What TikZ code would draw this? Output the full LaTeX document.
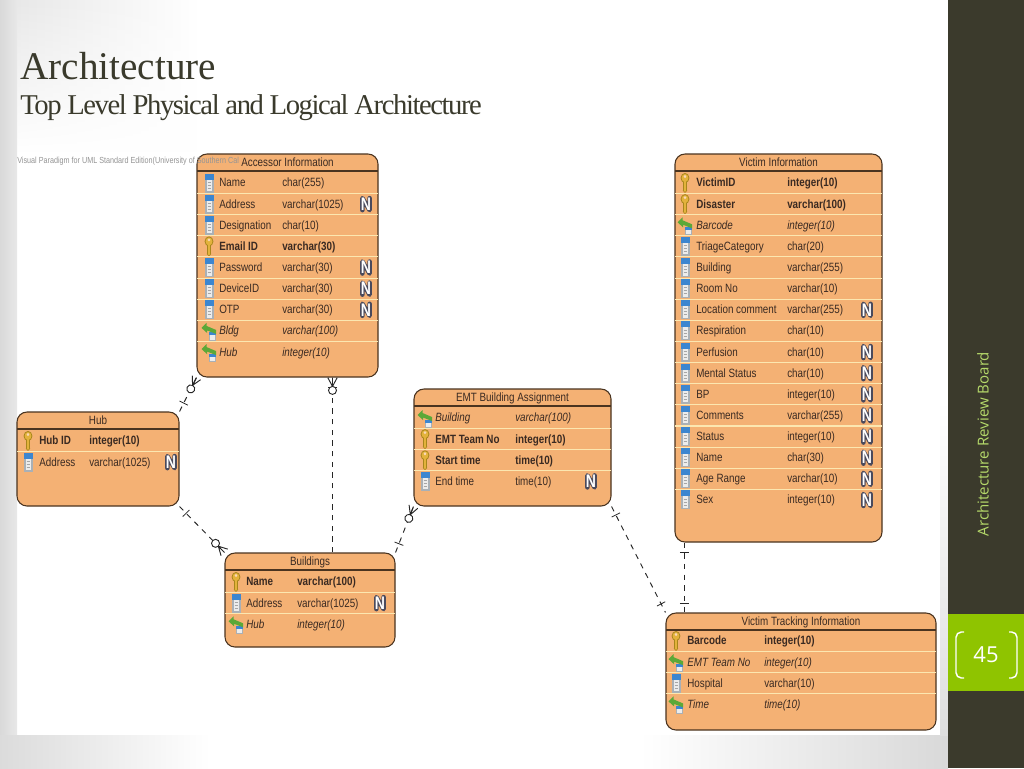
\documentclass[tikz,border=0pt]{standalone}
\usepackage{fontspec}
\setmainfont{Liberation Serif}
\newfontfamily\headfont[LetterSpace=-5]{Liberation Serif}
\newfontfamily\erfont[FakeStretch=0.82]{Liberation Sans}
\newfontfamily\markfont{Liberation Sans Bold}
\newfontfamily\sidefont{Open Sans}
\usetikzlibrary{decorations.markings,fadings}

\definecolor{erfill}{HTML}{F4B174}
\definecolor{ersep}{HTML}{FCE7B0}
\definecolor{erdark}{HTML}{4A3420}
\definecolor{ertext}{HTML}{3A2A22}
\definecolor{sidebar}{HTML}{3B3A2C}
\definecolor{sidegreen}{HTML}{8FC400}
\definecolor{sidetext}{HTML}{B5D96A}
\definecolor{slidetext}{HTML}{3A3A2C}
\definecolor{keygold}{HTML}{E3B23C}
\definecolor{keyedge}{HTML}{A8861C}
\definecolor{colblue}{HTML}{3C86D0}
\definecolor{colbody}{HTML}{A9B0B6}
\definecolor{fkgreen}{HTML}{5CA838}
\definecolor{markedge}{HTML}{4A4A5C}

\tikzset{
  erbox/.style={draw=erdark,fill=erfill,line width=0.8pt,rounded corners=7.5pt},
  coltext/.style={anchor=west,inner sep=0pt,text=ertext,text height=6.6pt,text depth=2pt,font=\erfont\fontsize{9}{10}\selectfont},
  pktext/.style={coltext,font=\erfont\bfseries\fontsize{9}{10}\selectfont},
  fktext/.style={coltext,font=\erfont\itshape\fontsize{9}{10}\selectfont},
  erline/.style={draw=black!85,line width=0.7pt,dash pattern=on 4pt off 4pt},
  onestart/.style={postaction={decorate,decoration={markings,mark=at position 0.001 with {\draw[solid,line width=0.6pt] (7pt,-3.5pt)--(7pt,3.5pt);}}}},
  oneend/.style={postaction={decorate,decoration={markings,mark=at position 0.999 with {\draw[solid,line width=0.6pt] (-7pt,-3.5pt)--(-7pt,3.5pt);}}}},
  manyend/.style={postaction={decorate,decoration={markings,mark=at position 0.999 with {
    \draw[solid,line width=0.7pt,fill=white] (-9.5pt,0) circle (3pt);
    \draw[solid,line width=0.7pt] (-6.5pt,0)--(0,-3.5pt) (-6.5pt,0)--(0,0) (-6.5pt,0)--(0,3.5pt);}}}},
  colicon/.pic={
    \fill[colbody] (-4.5,-9.5) rectangle (4.5,9.5);
    \fill[white!85!gray] (-2.5,-3.5) rectangle (2.5,8);
    \fill[colblue] (-4.5,-9.5) rectangle (4.5,-3.5);
    \draw[gray!70,line width=0.5pt] (-1.5,-1)--(1.5,-1) (-1.5,2)--(1.5,2) (-1.5,5)--(1.5,5);
  },
  pkicon/.pic={
    \fill[keyedge] (-2.3,-3) rectangle (2.3,7.5);
    \fill[keyedge] (-2.3,7.5)--(0,10)--(2.3,7.5)--cycle;
    \fill[keyedge] (0,-5) ellipse (4.4 and 5);
    \fill[keygold] (-1.3,-3) rectangle (1.3,7.5);
    \fill[keygold] (-1.3,7.5)--(0,9)--(1.3,7.5)--cycle;
    \fill[keygold] (0,-5) ellipse (3.4 and 4);
    \fill[erfill!50!white] (0,-6.5) ellipse (1.4 and 1.6);
  },
  fkicon/.pic={
    \fill[colbody] (-0.5,1.5) rectangle (7,10);
    \fill[white!85!gray] (1,4.5) rectangle (5.5,9);
    \fill[colblue] (-0.5,1.5) rectangle (7,4.5);
    \fill[fkgreen] (-7.5,-3)--(-2.5,-8)--(-2.5,-5)--(7,-1)--(7,3)--(-2,-0.5)--(-2,2)--cycle;
  },
  nullback/.pic={
    \draw[markedge,line width=3.4pt,line join=round,line cap=round] (-3.6,6)--(-3.6,-6)--(3.6,6)--(3.6,-6);
  },
}

% white letter of a nullable column
\newcommand{\nullmark}{\scalebox{1}[1.3]{\markfont\fontsize{10.5}{11}\selectfont N}}

% table box: name, x1, y1, x2, y2, title
\newcommand{\erbox}[6]{
  \node[erbox,minimum width={(#4-#2)*0.75pt},minimum height={(#5-#3)*0.75pt}] (#1) at ({(#2+#4)/2},{(#3+#5)/2}) {};
  \node[coltext,anchor=center] (#1-title) at ({(#2+#4)/2},{#3+9}) {#6};
  \draw[erdark,line width=1pt] ([xshift=0.4pt]#1.west |- 0,{#3+17}) -- ([xshift=-0.4pt]#1.east |- 0,{#3+17});
}
% rows: table, icon x, name x, type x, N x, first y, list
\newcommand{\errows}[7]{
  \foreach \kind/\fname/\ftype/\isnull [count=\i] in {#7} {
    \pgfmathsetmacro\rowy{#6+(\i-1)*21.13}
    \pgfmathsetmacro\sepy{\rowy-10.6}
    \pgfmathsetmacro\texty{\rowy+0.9}
    \ifnum\i>1 \draw[ersep,line width=0.8pt] ([xshift=0.5pt]#1.west |- 0,\sepy) -- ([xshift=-0.5pt]#1.east |- 0,\sepy); \fi
    \pic at (#2,\rowy) {\kind icon};
    \node[\kind text] (#1-n\i) at (#3,\texty) {\fname};
    \node[\kind text] (#1-t\i) at (#4,\texty) {\ftype};
    \ifx\isnull\yesnull
      \pic at (#5,\rowy) {nullback};
      \node[inner sep=0pt,text=white] (#1-m\i) at (#5,\rowy) {\nullmark};
    \fi
  }
}
\def\yesnull{N}

\begin{document}
\begin{tikzpicture}[x=0.75pt,y=-0.75pt]
  \useasboundingbox (0,0) rectangle (1024,768);

  % Slide
  \fill[white] (0,0) rectangle (1024,768);
  \shade[left color=black!15,right color=black!9] (0,0) rectangle (17,735);
  \shade[left color=black!9,right color=white,path fading=south] (17,0) rectangle (200,152);
  \shade[left color=black!14,right color=white] (0,735) rectangle (210,768);
  \shade[left color=white,right color=black!15] (640,735) rectangle (948,768);
  \shade[top color=white,bottom color=black!13] (940,400) rectangle (948,735);

  % Sidebar
  \fill[sidebar] (948,0) rectangle (1024,768);
  \fill[sidegreen] (948,614) rectangle (1024,691);
  \draw[white,line width=1.1pt,rounded corners=4pt] (964,632)--(956,632)--(956,678)--(964,678);
  \draw[white,line width=1.1pt,rounded corners=4pt] (1009,632)--(1017,632)--(1017,678)--(1009,678);
  \node[text=white,inner sep=0pt,font=\sidefont\fontsize{16.5}{18}\selectfont] (pagenum) at (986,655) {45};
  \node[text=sidetext,inner sep=0pt,rotate=90,font=\sidefont\fontsize{11.3}{13}\selectfont] (boardname) at (983,444) {Architecture Review Board};

  % Heading
  \node[anchor=base west,inner sep=0pt,text=slidetext,font=\fontsize{29.4}{32}\selectfont] (headline) at (20,79) {Architecture};
  \node[anchor=base west,inner sep=0pt,text=slidetext,font=\headfont\fontsize{21.5}{24}\selectfont] (subline) at (20,114) {Top Level Physical and Logical Architecture};

  % Tables
  \erbox{accessor}{197}{154}{378}{377}{Accessor Information}
  \errows{accessor}{209}{219}{282}{366}{183}{
    col/Name/char(255)/-, col/Address/varchar(1025)/N, col/Designation/char(10)/-,
    pk/Email ID/varchar(30)/-, col/Password/varchar(30)/N, col/DeviceID/varchar(30)/N,
    col/OTP/varchar(30)/N, fk/Bldg/varchar(100)/-, fk/Hub/integer(10)/-}

  \erbox{hub}{17}{412}{179}{506}{Hub}
  \errows{hub}{28}{39}{89}{171}{441}{pk/Hub ID/integer(10)/-, col/Address/varchar(1025)/N}

  \erbox{buildings}{225}{553}{395}{647}{Buildings}
  \errows{buildings}{236}{246}{297}{380}{582}{
    pk/Name/varchar(100)/-, col/Address/varchar(1025)/N, fk/Hub/integer(10)/-}

  \erbox{emt}{414}{389}{611}{506}{EMT Building Assignment}
  \errows{emt}{425}{435}{515}{591}{418}{
    fk/Building/varchar(100)/-, pk/EMT Team No/integer(10)/-,
    pk/Start time/time(10)/-, col/End time/time(10)/N}

  \erbox{victim}{675}{154}{882}{542}{Victim Information}
  \errows{victim}{685}{696}{787}{867}{183}{
    pk/VictimID/integer(10)/-, pk/Disaster/varchar(100)/-, fk/Barcode/integer(10)/-,
    col/TriageCategory/char(20)/-, col/Building/varchar(255)/-, col/Room No/varchar(10)/-,
    col/Location comment/varchar(255)/N, col/Respiration/char(10)/-, col/Perfusion/char(10)/N,
    col/Mental Status/char(10)/N, col/BP/integer(10)/N, col/Comments/varchar(255)/N,
    col/Status/integer(10)/N, col/Name/char(30)/N, col/Age Range/varchar(10)/N, col/Sex/integer(10)/N}

  \erbox{tracking}{666}{613}{936}{730}{Victim Tracking Information}
  \errows{tracking}{676}{687}{764}{900}{641}{
    pk/Barcode/integer(10)/-, fk/EMT Team No/integer(10)/-,
    col/Hospital/varchar(10)/-, fk/Time/time(10)/-}

  % Watermark
  \node[anchor=west,inner sep=0pt,text=black!42,font=\erfont\fontsize{6.6}{7}\selectfont] (stamp) at (17,161) {Visual Paradigm for UML Standard Edition(University of Southern Cal};

  % Relations
  \draw[erline,onestart,manyend] (hub.north east) -- (accessor.south west);
  \draw[erline,onestart,manyend] (hub.south east) -- (buildings.north west);
  \draw[erline,oneend,manyend] ([xshift=16.875pt]buildings.north) -- ([xshift=33.75pt]accessor.south);
  \draw[erline,onestart,manyend] (buildings.north east) -- (emt.south west);
  \draw[erline,onestart,oneend] (emt.south east) -- (tracking.north west);
  \draw[erline,onestart,oneend] ([xshift=-70.5pt]victim.south) -- ([xshift=-87.375pt]tracking.north);
\end{tikzpicture}
\end{document}
